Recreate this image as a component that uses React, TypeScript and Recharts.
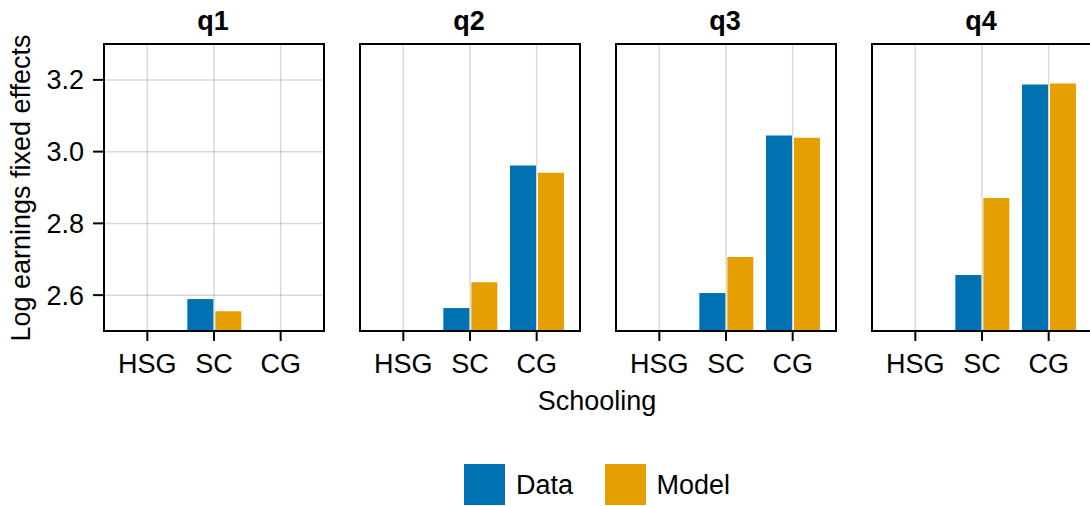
import React from 'react';
import { BarChart, Bar, XAxis, YAxis, CartesianGrid } from 'recharts';

const categories = ['HSG', 'SC', 'CG'];
const panelTitles = ['q1', 'q2', 'q3', 'q4'];
const dataValues: (number | null)[][] = [
  [null, 2.589, null],
  [null, 2.564, 2.961],
  [null, 2.606, 3.045],
  [null, 2.656, 3.187],
];
const modelValues: (number | null)[][] = [
  [null, 2.555, null],
  [null, 2.636, 2.941],
  [null, 2.706, 3.039],
  [null, 2.871, 3.19],
];
const yTicks = [2.6, 2.8, 3.0, 3.2];
const yDomain: [number, number] = [2.5, 3.3];
const seriesNames = ['Data', 'Model'];
const seriesColors = ['#0072B2', '#E69F00'];

const FONT = '"Liberation Sans", Arial, Helvetica, sans-serif';
const FS = 27;
const PLOT_TOP = 44;
const PLOT_H = 287;
const PLOT_W = 220;
const Y_AXIS_W = 60;
const X_AXIS_H = 60;
const panelLefts = [104, 360, 616, 872];

function Panel({ idx }: { idx: number }) {
  const rows = categories.map((c, i) => ({
    cat: c,
    data: dataValues[idx][i],
    model: modelValues[idx][i],
  }));
  const first = idx === 0;
  const left = panelLefts[idx];
  return (
    <>
      <div style={{ position: 'absolute', left: left - Y_AXIS_W, top: 0 }}>
        <BarChart
          width={Y_AXIS_W + PLOT_W + 2}
          height={PLOT_TOP + PLOT_H + X_AXIS_H}
          data={rows}
          margin={{ top: PLOT_TOP, right: 2, bottom: 0, left: 0 }}
          barCategoryGap="10%"
          barGap={2}
        >
          <CartesianGrid stroke="#000" strokeOpacity={0.15} strokeWidth={1.5} />
          <XAxis
            dataKey="cat"
            type="category"
            interval={0}
            padding={{ left: 10, right: 10 }}
            axisLine={false}
            tickLine={{ stroke: '#000', strokeWidth: 2 }}
            tickSize={10}
            tickMargin={13}
            height={X_AXIS_H}
            tick={{ fill: '#000', fontSize: FS, fontFamily: FONT }}
          />
          <YAxis
            type="number"
            domain={yDomain}
            ticks={yTicks}
            allowDataOverflow
            width={Y_AXIS_W}
            axisLine={false}
            tickSize={11}
            tickMargin={9}
            tickFormatter={(v: number) => v.toFixed(1)}
            tickLine={first ? { stroke: '#000', strokeWidth: 2 } : false}
            tick={first ? { fill: '#000', fontSize: FS, fontFamily: FONT } : false}
          />
          <Bar dataKey="data" name={seriesNames[0]} fill={seriesColors[0]} isAnimationActive={false} />
          <Bar dataKey="model" name={seriesNames[1]} fill={seriesColors[1]} isAnimationActive={false} />
        </BarChart>
      </div>
      <div
        style={{
          position: 'absolute',
          left: left - 1,
          top: PLOT_TOP - 1,
          width: PLOT_W + 2,
          height: PLOT_H + 2,
          border: '2px solid #000',
          boxSizing: 'border-box',
          pointerEvents: 'none',
        }}
      />
    </>
  );
}

export default function App() {
  return (
    <div
      style={{
        position: 'absolute',
        left: 0,
        top: 0,
        width: 1090,
        height: 506,
        overflow: 'hidden',
        background: '#fff',
        fontFamily: FONT,
      }}
    >
      {panelTitles.map((_, i) => (
        <Panel key={i} idx={i} />
      ))}
      <svg
        width={1090}
        height={506}
        style={{ position: 'absolute', left: 0, top: 0, pointerEvents: 'none' }}
      >
        {panelTitles.map((t, i) => (
          <text
            key={t}
            x={panelLefts[i] + PLOT_W / 2 - 1}
            y={30}
            textAnchor="middle"
            fontFamily={FONT}
            fontSize={FS}
            fontWeight="bold"
            fill="#000"
          >
            {t}
          </text>
        ))}
        <text
          transform="translate(29.5,188) rotate(-90)"
          textAnchor="middle"
          fontFamily={FONT}
          fontSize={FS}
          fill="#000"
        >
          Log earnings fixed effects
        </text>
        <text x={597} y={409.5} textAnchor="middle" fontFamily={FONT} fontSize={FS} fill="#000">
          Schooling
        </text>
        <rect x={464} y={464} width={41} height={41} fill={seriesColors[0]} />
        <text x={516} y={494} fontFamily={FONT} fontSize={FS} fill="#000">
          {seriesNames[0]}
        </text>
        <rect x={605} y={464} width={41} height={41} fill={seriesColors[1]} />
        <text x={656.5} y={494} fontFamily={FONT} fontSize={FS} fill="#000">
          {seriesNames[1]}
        </text>
      </svg>
    </div>
  );
}
